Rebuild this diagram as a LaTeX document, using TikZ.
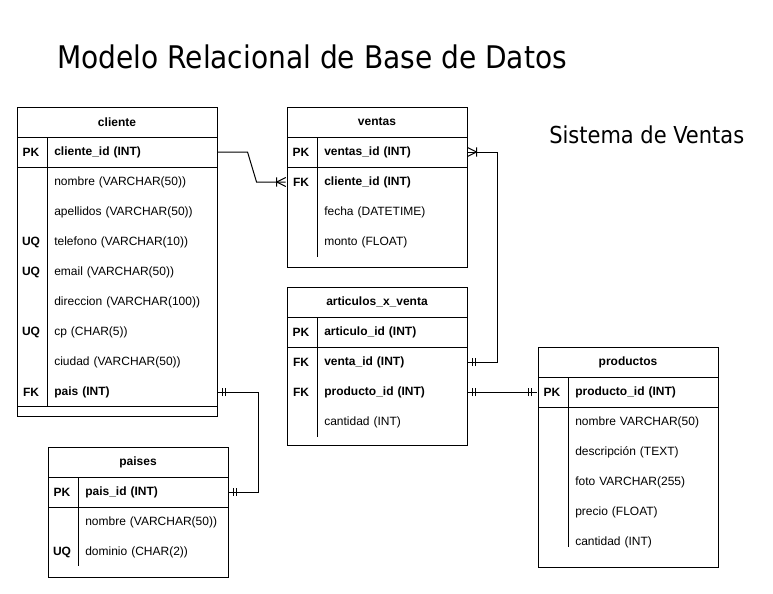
\documentclass[tikz,border=0pt]{standalone}
\usepackage{fontspec}
\setsansfont{Liberation Sans}
\newfontfamily\headfont{DejaVu Sans Condensed}
\usetikzlibrary{decorations.markings}

\begin{document}
\begin{tikzpicture}[x=0.75pt, y=-0.75pt,
      table/.style={line width=0.75pt},
      head/.style={
        inner sep=0,
        font=\sffamily\bfseries\fontsize{9}{11}\selectfont},
      key/.style={
        % The shape:
        rectangle, minimum width=22.5pt, minimum height=22.5pt, inner sep=0,
        % The rest
        font=\sffamily\bfseries\fontsize{9}{11}\selectfont},
      field/.style={
        anchor=west, inner sep=0, text width=107.25pt, align=left,
        font=\sffamily\fontsize{9}{11}\selectfont},
      keyfield/.style={field, font=\sffamily\bfseries\fontsize{9}{11}\selectfont},
      link/.style={line width=0.75pt},
      bars start/.style={postaction={decorate, decoration={markings,
        mark=at position 3.75pt with {\draw[line width=0.75pt] (0,-3pt) -- (0,3pt);},
        mark=at position 6pt with {\draw[line width=0.75pt] (0,-3pt) -- (0,3pt);}}}},
      bars end/.style={postaction={decorate, decoration={markings,
        mark=at position -3.75pt with {\draw[line width=0.75pt] (0,-3pt) -- (0,3pt);},
        mark=at position -6pt with {\draw[line width=0.75pt] (0,-3pt) -- (0,3pt);}}}},
      crow end/.style={postaction={decorate, decoration={markings,
        mark=at position -6.75pt with {\draw[line width=0.75pt] (0,-3.4pt) -- (0,3.4pt)
          (0,0) -- (6.75pt,3.4pt) (0,0) -- (6.75pt,-3.4pt);}}}}]
    \path[use as bounding box, fill=white] (0,0) rectangle (773,593);

    \node(titulo)[anchor=base west, inner sep=0, font=\headfont\fontsize{23.4}{28}\selectfont] at (57,68) {Modelo Relacional de Base de Datos};
    \node(sistema)[anchor=base west, inner sep=0, font=\headfont\fontsize{17.5}{21}\selectfont] at (549,143) {Sistema de Ventas};

    % cliente
    \draw[table] (17,107) rectangle (217,416);
    \draw[table] (17,137) -- (217,137) (17,167) -- (217,167) (17,406) -- (217,406) (47,137) -- (47,406);
    \node(cliente)[head] at (117,122) {cliente};
    \node(cli-pk)[key] at (31,152) {PK};
    \node(cli-id)[keyfield, text width=122.25pt] at (54,152) {cliente\_id (INT)};
    \node(cli-nom)[field, text width=122.25pt] at (54,182) {nombre (VARCHAR(50))};
    \node(cli-ape)[field, text width=122.25pt] at (54,212) {apellidos (VARCHAR(50))};
    \node(cli-uq1)[key] at (31,242) {UQ};
    \node(cli-tel)[field, text width=122.25pt] at (54,242) {telefono (VARCHAR(10))};
    \node(cli-uq2)[key] at (31,272) {UQ};
    \node(cli-mail)[field, text width=122.25pt] at (54,272) {email (VARCHAR(50))};
    \node(cli-dir)[field, text width=122.25pt] at (54,302) {direccion (VARCHAR(100))};
    \node(cli-uq3)[key] at (31,332) {UQ};
    \node(cli-cp)[field, text width=122.25pt] at (54,332) {cp (CHAR(5))};
    \node(cli-ciu)[field, text width=122.25pt] at (54,362) {ciudad (VARCHAR(50))};
    \node(cli-fk)[key] at (31,392) {FK};
    \node(cli-pais)[keyfield, text width=122.25pt] at (54,392) {pais (INT)};

    % ventas
    \draw[table] (287,107) rectangle (467,267);
    \draw[table] (287,137) -- (467,137) (287,167) -- (467,167) (317,137) -- (317,257);
    \node(ventas)[head] at (377,122) {ventas};
    \node(ven-pk)[key] at (301,152) {PK};
    \node(ven-id)[keyfield] at (324,152) {ventas\_id (INT)};
    \node(ven-fk)[key] at (301,182) {FK};
    \node(ven-cli)[keyfield] at (324,182) {cliente\_id (INT)};
    \node(ven-fec)[field] at (324,212) {fecha (DATETIME)};
    \node(ven-mon)[field] at (324,242) {monto (FLOAT)};

    % articulos_x_venta
    \draw[table] (287,287) rectangle (467,445);
    \draw[table] (287,317) -- (467,317) (287,347) -- (467,347) (317,317) -- (317,437);
    \node(articulos)[head] at (377,302) {articulos\_x\_venta};
    \node(art-pk)[key] at (301,332) {PK};
    \node(art-id)[keyfield] at (324,332) {articulo\_id (INT)};
    \node(art-fk1)[key] at (301,362) {FK};
    \node(art-vid)[keyfield] at (324,362) {venta\_id (INT)};
    \node(art-fk2)[key] at (301,392) {FK};
    \node(art-pid)[keyfield] at (324,392) {producto\_id (INT)};
    \node(art-can)[field] at (324,422) {cantidad (INT)};

    % productos
    \draw[table] (538,347) rectangle (718,567);
    \draw[table] (538,377) -- (718,377) (538,407) -- (718,407) (568,377) -- (568,547);
    \node(productos)[head] at (628,362) {productos};
    \node(pro-pk)[key] at (552,392) {PK};
    \node(pro-id)[keyfield] at (575,392) {producto\_id (INT)};
    \node(pro-nom)[field] at (575,422) {nombre VARCHAR(50)};
    \node(pro-des)[field] at (575,452) {descripción (TEXT)};
    \node(pro-fot)[field] at (575,482) {foto VARCHAR(255)};
    \node(pro-pre)[field] at (575,512) {precio (FLOAT)};
    \node(pro-can)[field] at (575,542) {cantidad (INT)};

    % paises
    \draw[table] (48,447) rectangle (228,577);
    \draw[table] (48,477) -- (228,477) (48,507) -- (228,507) (78,477) -- (78,566);
    \node(paises)[head] at (138,462) {paises};
    \node(pai-pk)[key] at (62,492) {PK};
    \node(pai-id)[keyfield] at (85,492) {pais\_id (INT)};
    \node(pai-nom)[field] at (85,522) {nombre (VARCHAR(50))};
    \node(pai-uq)[key] at (62,552) {UQ};
    \node(pai-dom)[field] at (85,552) {dominio (CHAR(2))};

    % relaciones
    \draw[link, crow end] (cli-id.east) -- ++(30,0) -- ++(9,30) -- (ven-fk.west);
    \draw[link, bars start, crow end] (art-vid.east) -- ++(30,0) |- (ven-id.east);
    \draw[link, bars start, bars end] (art-pid.east) -- (pro-pk.west);
    \draw[link, bars start, bars end] (cli-pais.east) -- ++(41,0) |- (pai-id.east);

  \end{tikzpicture}
\end{document}
